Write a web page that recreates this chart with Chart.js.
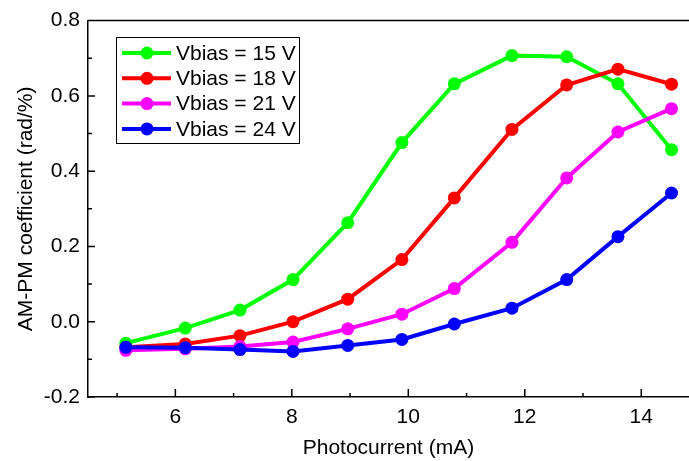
<!DOCTYPE html>
<html>
<head>
<meta charset="utf-8">
<script src="https://cdn.jsdelivr.net/npm/chart.js@4.4.1/dist/chart.umd.min.js"></script>
<style>
    html, body { margin: 0; padding: 0; background: #fff; }
</style>
</head>
<body>
<canvas id="ampmChart" width="689" height="461"></canvas>
<script>
// Data
const photocurrent = [5.15, 6.17, 7.11, 8.02, 8.96, 9.89, 10.79, 11.78, 12.72, 13.6, 14.52];
const vbias15 = [-0.057, -0.017, 0.031, 0.112, 0.263, 0.476, 0.632, 0.707, 0.704, 0.632, 0.457];
const vbias18 = [-0.068, -0.059, -0.037, 0.0, 0.060, 0.165, 0.329, 0.511, 0.629, 0.671, 0.631];
const vbias21 = [-0.076, -0.072, -0.066, -0.054, -0.019, 0.020, 0.088, 0.211, 0.382, 0.504, 0.566];
const vbias24 = [-0.068, -0.069, -0.074, -0.079, -0.063, -0.047, -0.006, 0.036, 0.112, 0.226, 0.342];
const seriesLabels = ['Vbias = 15 V', 'Vbias = 18 V', 'Vbias = 21 V', 'Vbias = 24 V'];
const seriesColors = ['#00ff00', '#ff0000', '#ff00ff', '#0000ff'];
const xTicks = [6, 8, 10, 12, 14];
const xMinorTicks = [5, 7, 9, 11, 13];
const yTicks = [-0.2, 0, 0.2, 0.4, 0.6, 0.8];
const yMinorTicks = [-0.1, 0.1, 0.3, 0.5, 0.7];

const FONT = 'Liberation Sans, Arial, sans-serif';

const toPoints = ys => ys.map((y, i) => ({ x: photocurrent[i], y: y }));
const allSeries = [vbias15, vbias18, vbias21, vbias24];

// inward tick marks + top frame line
const frameTicks = {
    id: 'frameTicks',
    afterDraw(chart) {
        const { ctx, chartArea: a, scales: { x, y } } = chart;
        ctx.save();
        ctx.strokeStyle = '#000';
        ctx.lineWidth = 1.5;
        ctx.beginPath();
        ctx.moveTo(a.left, a.top);
        ctx.lineTo(a.right, a.top);
        xTicks.forEach(v => { const px = x.getPixelForValue(v); ctx.moveTo(px, a.bottom); ctx.lineTo(px, a.bottom - 8); });
        xMinorTicks.forEach(v => { const px = x.getPixelForValue(v); ctx.moveTo(px, a.bottom); ctx.lineTo(px, a.bottom - 4); });
        yTicks.forEach(v => { const py = y.getPixelForValue(v); ctx.moveTo(a.left, py); ctx.lineTo(a.left + 7, py); });
        yMinorTicks.forEach(v => { const py = y.getPixelForValue(v); ctx.moveTo(a.left, py); ctx.lineTo(a.left + 4, py); });
        ctx.stroke();
        ctx.restore();
    }
};

// boxed legend inside the plot, upper left
const boxLegend = {
    id: 'boxLegend',
    afterDraw(chart) {
        const ctx = chart.ctx;
        const bx = 116, by = 37, bw = 183, bh = 106, rowH = 25.3;
        ctx.save();
        ctx.fillStyle = '#fff';
        ctx.fillRect(bx, by, bw, bh);
        ctx.strokeStyle = '#000';
        ctx.lineWidth = 1;
        ctx.strokeRect(bx + 0.5, by + 0.5, bw, bh);
        ctx.font = '21px ' + FONT;
        ctx.textBaseline = 'middle';
        chart.data.datasets.forEach((ds, i) => {
            const cy = by + 16 + i * rowH;
            ctx.strokeStyle = ds.borderColor;
            ctx.lineWidth = 4;
            ctx.beginPath();
            ctx.moveTo(bx + 6, cy);
            ctx.lineTo(bx + 55, cy);
            ctx.stroke();
            ctx.fillStyle = ds.backgroundColor;
            ctx.beginPath();
            ctx.arc(bx + 31, cy, 6.5, 0, Math.PI * 2);
            ctx.fill();
            ctx.fillStyle = '#000';
            ctx.fillText(ds.label, bx + 60, cy + 1);
        });
        ctx.restore();
    }
};

const ctx = document.getElementById('ampmChart').getContext('2d');
const chart = new Chart(ctx, {
    type: 'scatter',
    data: {
        datasets: allSeries.map((ys, i) => ({
            label: seriesLabels[i],
            data: toPoints(ys),
            showLine: true,
            borderColor: seriesColors[i],
            backgroundColor: seriesColors[i],
            borderWidth: 4,
            pointRadius: 6.5,
            pointHoverRadius: 6.5,
            pointBorderWidth: 0,
            order: allSeries.length - i
        }))
    },
    options: {
        responsive: false,
        animation: false,
        layout: { autoPadding: false, padding: { top: 17, right: 0, left: 0, bottom: 0 } },
        plugins: {
            legend: { display: false },
            tooltip: { enabled: false }
        },
        scales: {
            x: {
                type: 'linear',
                min: 4.5,
                max: 14.82,
                grid: { display: false, drawTicks: false },
                border: { display: true, color: '#000', width: 1.5 },
                afterBuildTicks: s => { s.ticks = xTicks.map(v => ({ value: v })); },
                afterFit: s => { s.height = 64; },
                ticks: {
                    color: '#000',
                    padding: 8,
                    maxRotation: 0,
                    font: { family: FONT, size: 21 }
                },
                title: {
                    display: true,
                    text: 'Photocurrent (mA)',
                    color: '#000',
                    padding: { top: 0, bottom: 0 },
                    font: { family: FONT, size: 21 }
                }
            },
            y: {
                type: 'linear',
                min: -0.2,
                max: 0.8,
                grid: { display: false, drawTicks: false },
                border: { display: true, color: '#000', width: 1.5 },
                afterBuildTicks: s => { s.ticks = yTicks.map(v => ({ value: v })); },
                afterFit: s => { s.width = 88; },
                ticks: {
                    color: '#000',
                    padding: 8,
                    font: { family: FONT, size: 21 },
                    callback: v => v.toFixed(1)
                },
                title: {
                    display: true,
                    text: 'AM-PM coefficient (rad/%)',
                    color: '#000',
                    padding: { top: 14, bottom: 0 },
                    font: { family: FONT, size: 21 }
                }
            }
        }
    },
    plugins: [frameTicks, boxLegend]
});
</script>
</body>
</html>
